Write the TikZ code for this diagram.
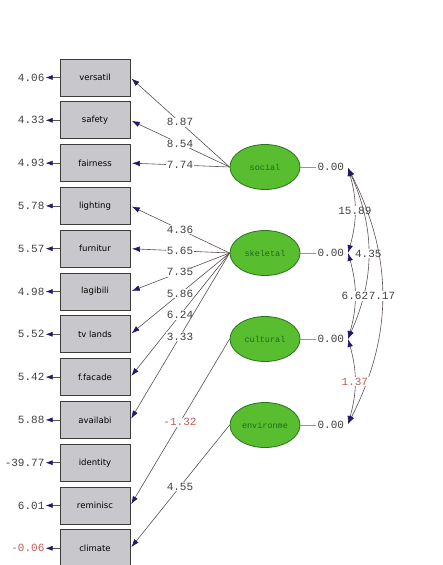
\documentclass[tikz,border=0pt]{standalone}
\usepackage{fontspec}
\setmainfont{DejaVu Sans}
\newfontfamily\monofam{Liberation Mono}
\usetikzlibrary{arrows.meta, shapes.geometric, calc, positioning}
\definecolor{boxFill}{RGB}{200,200,204}
\definecolor{boxDraw}{RGB}{60,60,60}
\definecolor{ellFill}{RGB}{88,190,48}
\definecolor{ellDraw}{RGB}{40,115,30}
\definecolor{ellText}{RGB}{30,105,30}
\definecolor{numGray}{RGB}{65,65,65}
\definecolor{numRed}{RGB}{200,90,90}
\definecolor{tipNavy}{RGB}{35,25,105}
\definecolor{lineGray}{RGB}{90,80,80}
\definecolor{meanGray}{RGB}{150,150,150}
\tikzset{
    itemBox/.style={rectangle, draw=boxDraw, fill=boxFill, line width=0.8pt, minimum width=70pt, minimum height=37pt, inner sep=0pt, font=\fontsize{8.5}{10}\selectfont},
    factorEll/.style={ellipse, draw=ellDraw, fill=ellFill, line width=0.8pt, minimum width=70pt, minimum height=45pt, inner sep=0pt, text=ellText, font=\monofam\fontsize{8.5}{9}\selectfont},
    numLbl/.style={font=\monofam\fontsize{11}{12}\selectfont, text=numGray, fill=white, inner sep=1pt},
    loadEdge/.style={-{Latex[length=8pt, width=5.5pt, color=tipNavy]}, draw=lineGray, line width=0.6pt, shorten >=1.5pt},
    errEdge/.style={-{Latex[length=7pt, width=5pt, color=tipNavy]}, draw=lineGray, line width=0.6pt},
    covArc/.style={{Latex[length=8pt, width=5.5pt, color=tipNavy]}-{Latex[length=8pt, width=5.5pt, color=tipNavy]}, draw=lineGray, line width=0.6pt},
    meanLink/.style={draw=meanGray, line width=0.6pt},
}
\newcommand{\drawLoad}[4][numGray]{
    \draw[loadEdge] (#2.west) -- node[numLbl, text=#1] {#4} (#3.east);
}
\newcommand{\drawVar}[4][numGray]{
    \node[numLbl, text=#1, anchor=east] (#3) at ($(#2.west)+(-14,0)$) {#4};
    \draw[errEdge] (#2.west) -- (#3.east);
}
\newcommand{\drawMean}[2]{
    \node[numLbl, anchor=west] (#1m) at ($(#1.east)+(16,0)$) {#2};
    \draw[meanLink] (#1.east) -- (#1m.west);
}

\begin{document}
\begin{tikzpicture}[x=1pt, y=-1pt]
        \useasboundingbox (0,0) rectangle (442,565);

        % observed items
        \node[itemBox] (versatil) at (95,77.5) {versatil};
        \node[itemBox] (safety) at (95,120.3) {safety};
        \node[itemBox] (fairness) at (95,163.1) {fairness};
        \node[itemBox] (lighting) at (95,205.9) {lighting};
        \node[itemBox] (furnitur) at (95,248.7) {furnitur};
        \node[itemBox] (lagibili) at (95,291.5) {lagibili};
        \node[itemBox] (tvlands) at (95,334.3) {tv lands};
        \node[itemBox] (ffacade) at (95,377.1) {f.facade};
        \node[itemBox] (availabi) at (95,419.9) {availabi};
        \node[itemBox] (identity) at (95,462.7) {identity};
        \node[itemBox] (reminisc) at (95,505.5) {reminisc};
        \node[itemBox] (climate) at (95,548.3) {climate};

        % latent factors
        \node[factorEll] (social) at (265,167) {social};
        \node[factorEll] (skeletal) at (265,253) {skeletal};
        \node[factorEll] (cultural) at (265,339) {cultural};
        \node[factorEll] (environme) at (265,425) {environme};

        % variances
        \drawVar{versatil}{v1}{4.06}
        \drawVar{safety}{v2}{4.33}
        \drawVar{fairness}{v3}{4.93}
        \drawVar{lighting}{v4}{5.78}
        \drawVar{furnitur}{v5}{5.57}
        \drawVar{lagibili}{v6}{4.98}
        \drawVar{tvlands}{v7}{5.52}
        \drawVar{ffacade}{v8}{5.42}
        \drawVar{availabi}{v9}{5.88}
        \drawVar{identity}{v10}{-39.77}
        \drawVar{reminisc}{v11}{6.01}
        \drawVar[numRed]{climate}{v12}{-0.06}

        % loadings
        \drawLoad{social}{versatil}{8.87}
        \drawLoad{social}{safety}{8.54}
        \drawLoad{social}{fairness}{7.74}
        \drawLoad{skeletal}{lighting}{4.36}
        \drawLoad{skeletal}{furnitur}{5.65}
        \drawLoad{skeletal}{lagibili}{7.35}
        \drawLoad{skeletal}{tvlands}{5.86}
        \drawLoad{skeletal}{ffacade}{6.24}
        \drawLoad{skeletal}{availabi}{3.33}
        \drawLoad[numRed]{cultural}{reminisc}{-1.32}
        \drawLoad{environme}{climate}{4.55}

        % means
        \drawMean{social}{0.00}
        \drawMean{skeletal}{0.00}
        \drawMean{cultural}{0.00}
        \drawMean{environme}{0.00}

        % covariances
        \coordinate (tS) at (348,168);
        \coordinate (tK) at (348,253);
        \coordinate (tC) at (348,339);
        \coordinate (tE) at (348,424);
        \draw[covArc] (tS) to[bend left=16] node[numLbl] {15.89} (tK);
        \draw[covArc] (tS) to[bend left=24] node[numLbl] {4.35} (tC);
        \draw[covArc] (tS) to[bend left=27] node[numLbl] {7.17} (tE);
        \draw[covArc] (tK) to[bend left=16] node[numLbl] {6.62} (tC);
        \draw[covArc] (tC) to[bend left=16] node[numLbl, text=numRed] {1.37} (tE);

    \end{tikzpicture}
\end{document}
